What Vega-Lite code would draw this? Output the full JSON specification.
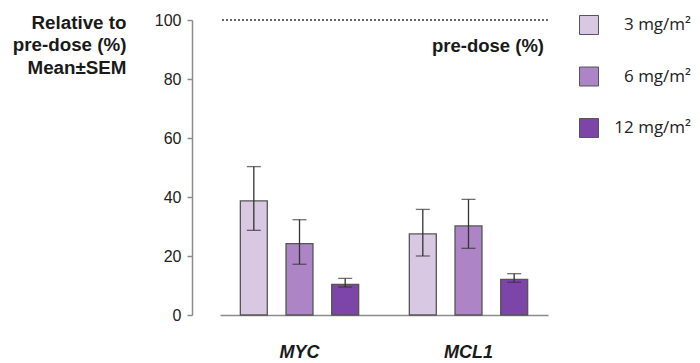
{
  "$schema": "https://vega.github.io/schema/vega-lite/v6.json",
  "width": 328,
  "height": 295,
  "autosize": {"type": "none"},
  "padding": {"left": 220, "top": 20, "right": 152, "bottom": 48},
  "background": "white",
  "config": {
    "view": {"stroke": null},
    "font": "Liberation Sans"
  },
  "data": {
    "values": [
      {"gene": "MYC", "dose": "3 mg/m²", "mean": 38.7, "lo": 28.7, "hi": 50.3},
      {"gene": "MYC", "dose": "6 mg/m²", "mean": 24.2, "lo": 17.2, "hi": 32.3},
      {"gene": "MYC", "dose": "12 mg/m²", "mean": 10.4, "lo": 9.5, "hi": 12.4},
      {"gene": "MCL1", "dose": "3 mg/m²", "mean": 27.5, "lo": 20.0, "hi": 35.8},
      {"gene": "MCL1", "dose": "6 mg/m²", "mean": 30.2, "lo": 22.6, "hi": 39.2},
      {"gene": "MCL1", "dose": "12 mg/m²", "mean": 12.1, "lo": 11.1, "hi": 14.0}
    ]
  },
  "encoding": {
    "x": {
      "field": "gene",
      "type": "nominal",
      "sort": ["MYC", "MCL1"],
      "scale": {"paddingInner": 0.189, "paddingOuter": 0.065},
      "axis": {
        "title": null,
        "domain": true,
        "domainColor": "#8c8c8c",
        "domainWidth": 1.5,
        "ticks": false,
        "labelAngle": 0,
        "labelFont": "Liberation Sans",
        "labelFontSize": 18,
        "labelFontWeight": "bold",
        "labelFontStyle": "italic",
        "labelColor": "#1a1a1a",
        "labelPadding": 28,
        "labelBaseline": "top"
      }
    },
    "xOffset": {
      "field": "dose",
      "type": "nominal",
      "sort": ["3 mg/m²", "6 mg/m²", "12 mg/m²"],
      "scale": {"paddingInner": 0.41, "paddingOuter": 0.205}
    }
  },
  "layer": [
    {
      "data": {"values": [{"ref": 100}]},
      "mark": {"type": "rule", "color": "#333333", "strokeWidth": 1.5, "strokeDash": [2, 2]},
      "encoding": {
        "x": null,
        "xOffset": null,
        "y": {"field": "ref", "type": "quantitative", "scale": {"domain": [0, 100], "nice": false}}
      }
    },
    {
      "data": {"values": [{"ref": 100, "label": "pre-dose (%)"}]},
      "mark": {"type": "text", "align": "right", "baseline": "alphabetic", "dx": -4, "dy": 32, "fontSize": 18.5, "fontWeight": "bold", "font": "Liberation Sans", "color": "#1a1a1a"},
      "encoding": {
        "x": {"value": "width"},
        "xOffset": null,
        "y": {"field": "ref", "type": "quantitative"},
        "text": {"field": "label"}
      }
    },
    {
      "mark": {"type": "bar", "stroke": "#555555", "strokeWidth": 1.3},
      "encoding": {
        "y": {
          "field": "mean",
          "type": "quantitative",
          "scale": {"domain": [0, 100], "nice": false},
          "axis": {
            "values": [0, 20, 40, 60, 80, 100],
            "grid": false,
            "offset": 28,
            "domainColor": "#8c8c8c",
            "domainWidth": 1.5,
            "tickColor": "#8c8c8c",
            "tickWidth": 1.5,
            "tickSize": 5,
            "labelPadding": 6,
            "labelFont": "Liberation Sans",
            "labelFontSize": 16,
            "labelColor": "#222222",
            "title": ["Relative to", "pre-dose (%)", "Mean±SEM"],
            "titleAngle": 0,
            "titleAlign": "right",
            "titleBaseline": "alphabetic",
            "titleX": -66,
            "titleY": 8,
            "titleLineHeight": 22.5,
            "titleFont": "Liberation Sans",
            "titleFontSize": 18.8,
            "titleFontWeight": "bold",
            "titleColor": "#1a1a1a"
          }
        },
        "color": {
          "field": "dose",
          "type": "nominal",
          "sort": ["3 mg/m²", "6 mg/m²", "12 mg/m²"],
          "scale": {"domain": ["3 mg/m²", "6 mg/m²", "12 mg/m²"], "range": ["#d9c8e2", "#ad84c6", "#7d45a8"]},
          "legend": {
            "title": null,
            "orient": "none",
            "legendX": 359,
            "legendY": -5,
            "padding": 0,
            "symbolType": "square",
            "symbolSize": 361,
            "symbolStrokeColor": "#555555",
            "symbolStrokeWidth": 1,
            "rowPadding": 27.5,
            "labelFont": "Open Sans",
            "labelFontSize": 17,
            "labelColor": "#222222",
            "labelAlign": "right",
            "labelOffset": 92,
            "labelLimit": 200
          }
        }
      }
    },
    {
      "mark": {"type": "rule", "color": "#333333", "strokeWidth": 1.3},
      "encoding": {
        "y": {"field": "lo", "type": "quantitative"},
        "y2": {"field": "hi"}
      }
    },
    {
      "mark": {"type": "tick", "color": "#333333", "thickness": 1.3, "size": 14},
      "encoding": {
        "y": {"field": "hi", "type": "quantitative"}
      }
    },
    {
      "mark": {"type": "tick", "color": "#333333", "thickness": 1.3, "size": 14},
      "encoding": {
        "y": {"field": "lo", "type": "quantitative"}
      }
    }
  ]
}
